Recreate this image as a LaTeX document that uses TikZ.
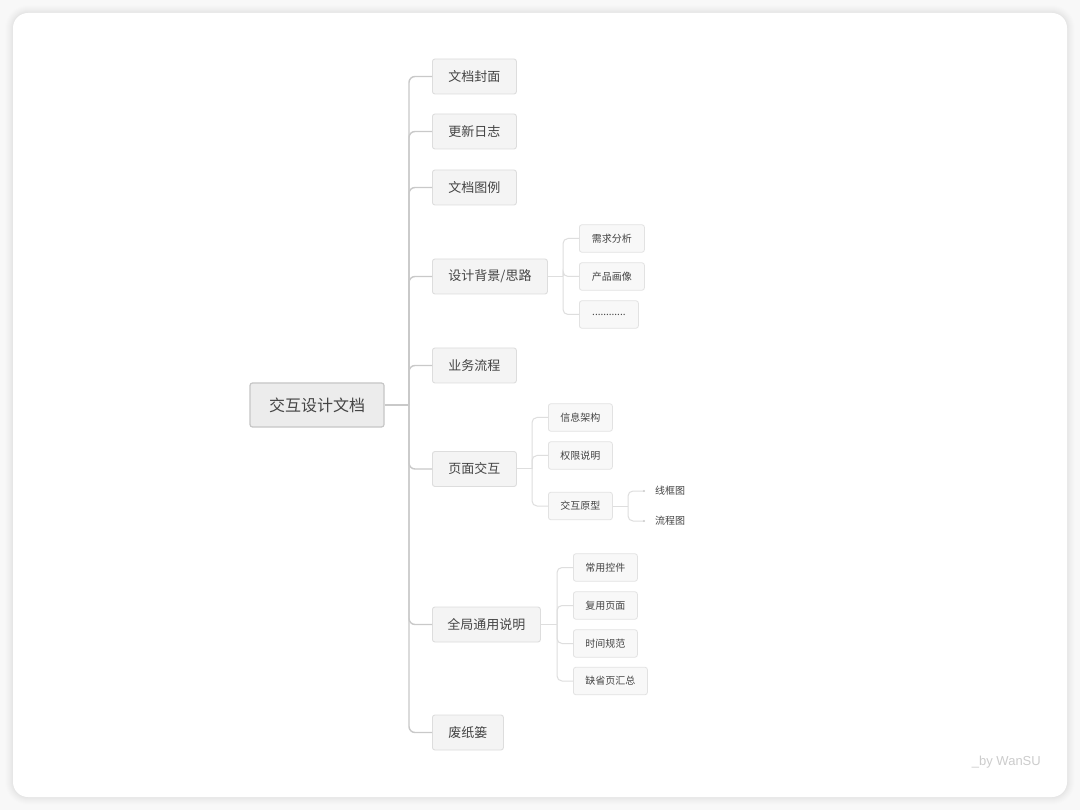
\documentclass[tikz,border=0pt]{standalone}
\usepackage{fontspec}
\setmainfont{Noto Sans CJK SC}
\newfontfamily\latinsans{Liberation Sans}
\definecolor{pagebg}{HTML}{F8F8F8}
\definecolor{txt}{HTML}{444444}
\definecolor{trunk}{HTML}{C9C9C9}
\definecolor{twig}{HTML}{DEDEDE}
\definecolor{rootfill}{HTML}{ECECEC}
\definecolor{rootline}{HTML}{C6C6C6}
\definecolor{lonefill}{HTML}{F4F4F4}
\definecolor{loneline}{HTML}{DDDDDD}
\definecolor{ltwofill}{HTML}{F8F8F8}
\definecolor{ltwoline}{HTML}{E2E2E2}
\definecolor{wmgrey}{HTML}{CCCCCC}
\tikzset{
  rootbox/.style={draw=rootline, fill=rootfill, line width=1.2pt, rounded corners=2.5pt,
    minimum height=44pt, font=\fontsize{16}{19}\selectfont, text=txt, anchor=center},
  onebox/.style={draw=loneline, fill=lonefill, line width=0.9pt, rounded corners=2.5pt,
    minimum height=35pt, inner xsep=0pt, font=\fontsize{13}{15}\selectfont, text=txt, anchor=west},
  twobox/.style={draw=ltwoline, fill=ltwofill, line width=0.8pt, rounded corners=2.5pt,
    minimum height=27.5pt, inner xsep=0pt, font=\fontsize{10}{12}\selectfont, text=txt, anchor=west},
  leaftext/.style={font=\fontsize{10}{12}\selectfont, text=txt, anchor=west, inner sep=0pt},
  trunkline/.style={draw=trunk, line width=1.4pt, rounded corners=6pt},
  twigline/.style={draw=twig, line width=1pt, rounded corners=5pt},
}
\begin{document}
\begin{tikzpicture}[x=1pt,y=-1pt]
\useasboundingbox (0,0) rectangle (1080,810);
\fill[pagebg] (0,0) rectangle (1080,810);
% soft card shadow
\foreach \d/\o in {8/0.005,7/0.006,6/0.007,5/0.008,4/0.009,3/0.010,2/0.011,1/0.012}{
  \fill[black, opacity=\o, rounded corners=15pt+\d pt] (13-\d,13-\d) rectangle (1067+\d,797+\d);
}
\fill[white, rounded corners=15pt] (13,13) rectangle (1067,797);

% root
\node[rootbox, minimum width=134pt] (root) at (317,405) {交互设计文档};

% level one
\node[onebox, minimum width=84pt] (a1) at (432,76.5) {文档封面};
\node[onebox, minimum width=84pt] (a2) at (432,131.5) {更新日志};
\node[onebox, minimum width=84pt] (a3) at (432,187.5) {文档图例};
\node[onebox, minimum width=115pt] (a4) at (432,276.5) {设计背景/思路};
\node[onebox, minimum width=84pt] (a5) at (432,365.5) {业务流程};
\node[onebox, minimum width=84pt] (a6) at (432,469) {页面交互};
\node[onebox, minimum width=108pt] (a7) at (432,624.5) {全局通用说明};
\node[onebox, minimum width=71pt] (a8) at (432,732.5) {废纸篓};

\coordinate (tr) at (409,405);
\draw[trunkline] (root.east) -- (tr);
\foreach \n in {a1,a2,a3,a4,a5,a6,a7,a8}{
  \draw[trunkline] (tr) |- (\n.west);
}

% level two under a4
\node[twobox, minimum width=65pt] (b1) at (579,238.5) {需求分析};
\node[twobox, minimum width=65pt] (b2) at (579,276.5) {产品画像};
\node[twobox, minimum width=59pt] (b3) at (579,314.5) {............};
\coordinate (tb) at (563,276.5);
\draw[twigline] (a4.east) -- (tb);
\foreach \n in {b1,b2,b3}{
  \draw[twigline] (tb) |- (\n.west);
}

% level two under a6
\node[twobox, minimum width=64pt] (c1) at (548,417.5) {信息架构};
\node[twobox, minimum width=64pt] (c2) at (548,455.5) {权限说明};
\node[twobox, minimum width=64pt] (c3) at (548,506) {交互原型};
\coordinate (tc) at (532,469);
\draw[twigline] (a6.east) -- (tc);
\foreach \n in {c1,c2,c3}{
  \draw[twigline] (tc) |- (\n.west);
}

% leaves under c3
\node[leaftext] (d1) at (655,491) {线框图};
\node[leaftext] (d2) at (655,521) {流程图};
\coordinate (td) at (628,506);
\coordinate (e1) at (644,491);
\coordinate (e2) at (644,521);
\draw[twigline] (c3.east) -- (td);
\draw[twigline] (td) |- (e1);
\draw[twigline] (td) |- (e2);
\fill[wmgrey] (e1) circle (1.1pt);
\fill[wmgrey] (e2) circle (1.1pt);

% level two under a7
\node[twobox, minimum width=64pt] (f1) at (573,567.5) {常用控件};
\node[twobox, minimum width=64pt] (f2) at (573,605.5) {复用页面};
\node[twobox, minimum width=64pt] (f3) at (573,643.5) {时间规范};
\node[twobox, minimum width=74pt] (f4) at (573,681) {缺省页汇总};
\coordinate (tf) at (557,624.5);
\draw[twigline] (a7.east) -- (tf);
\foreach \n in {f1,f2,f3,f4}{
  \draw[twigline] (tf) |- (\n.west);
}

% watermark
\node[font=\latinsans\fontsize{13}{15}\selectfont, text=wmgrey, anchor=east, inner sep=0pt] (wm) at (1041,762) {\_by WanSU};
\end{tikzpicture}
\end{document}
